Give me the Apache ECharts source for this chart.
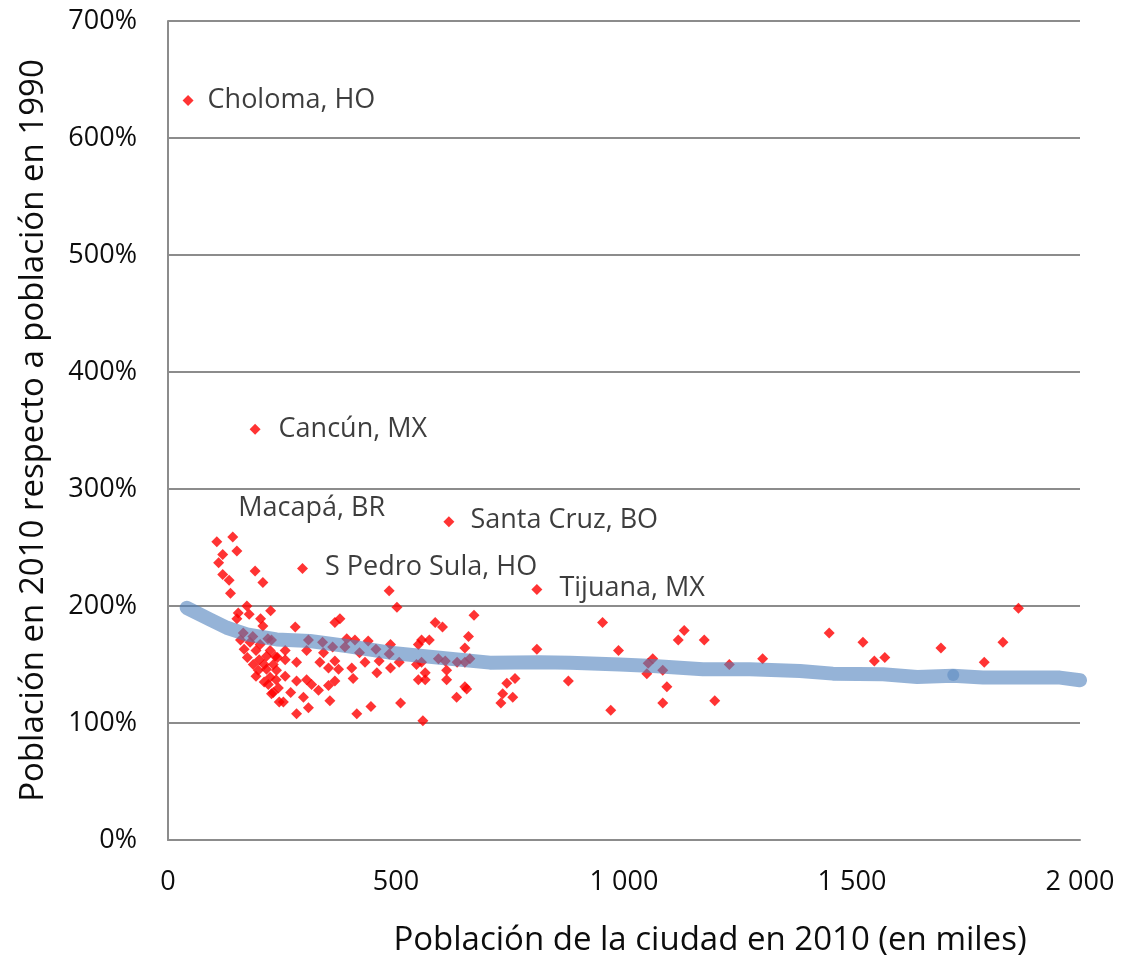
<!DOCTYPE html>
<html>
<head>
<meta charset="utf-8">
<script src="https://cdn.jsdelivr.net/npm/echarts@6/dist/echarts.min.js"></script>
<style>
  html, body { margin: 0; padding: 0; background: #fff; }
  #chart { width: 1130px; height: 962px; }
</style>
</head>
<body>
<div id="chart"></div>
<script>
// ciudades sin etiqueta: poblacion 2010 (miles) y % respecto a 1990
var poblacion = [107, 120, 151, 111, 191, 120, 134, 208, 137, 173, 225, 154, 178, 151, 203, 208, 165, 186, 219, 159,
  180, 202, 167, 193, 224, 174, 200, 216, 240, 187, 211, 231, 198, 216, 238, 193, 224, 211, 237, 220,
  227, 242, 244, 279, 366, 377, 227, 308, 339, 361, 388, 392, 410, 439, 420, 456, 257, 235, 304, 341,
  257, 282, 333, 366, 352, 374, 403, 432, 458, 257, 282, 304, 315, 330, 352, 366, 406, 231, 269, 297,
  253, 355, 308, 282, 445, 414, 502, 671, 586, 602, 659, 651, 488, 549, 556, 573, 485, 463, 507, 545,
  556, 593, 608, 634, 651, 662, 488, 564, 611, 549, 564, 611, 651, 655, 633, 510, 559, 809, 761, 743,
  734, 756, 730, 878, 953, 1119, 988, 1063, 1053, 1085, 1050, 1094, 1085, 971, 1132, 1176, 1199, 1231, 1304, 1450,
  1524, 1549, 1572, 1695, 1790, 1831, 1865, 485];
var crecimiento = [255, 244, 247, 237, 230, 227, 222, 220, 211, 200, 196, 194, 193, 189, 189, 183, 177, 174, 172, 171,
  169, 167, 163, 162, 162, 156, 154, 157, 156, 150, 150, 150, 145, 146, 145, 140, 139, 135, 137, 133,
  125, 130, 118, 182, 186, 189, 171, 171, 169, 165, 165, 172, 171, 170, 160, 163, 162, 157, 162, 160,
  154, 152, 152, 153, 147, 146, 147, 152, 143, 140, 136, 137, 133, 128, 132, 136, 138, 126, 126, 122,
  118, 119, 113, 108, 114, 108, 199, 192, 186, 182, 174, 164, 167, 167, 171, 171, 159, 153, 152, 150,
  152, 155, 153, 152, 152, 155, 147, 143, 145, 137, 137, 137, 131, 129, 122, 117, 102, 163, 138, 134,
  125, 122, 117, 136, 186, 171, 162, 155, 151, 145, 142, 131, 117, 111, 179, 171, 119, 150, 155, 177,
  169, 153, 156, 164, 152, 169, 198, 213];

// ciudades con etiqueta
var nombres = ['Choloma, HO', 'Cancún, MX', 'Macapá, BR', 'S Pedro Sula, HO', 'Santa Cruz, BO', 'Tijuana, MX'];
var nombresX = [44, 191, 142, 295, 616, 809];
var nombresY = [632, 351, 259, 232, 272, 214];

// curva de tendencia
var tendenciaX = [41, 92, 129, 173, 238, 311, 392, 487, 596, 706, 816, 882, 991, 1064, 1173, 1276, 1386, 1458,
  1568, 1643, 1721, 1787, 1897, 1956, 2000];
var tendenciaY = [198.4, 188.5, 181.4, 175.7, 171.4, 170.1, 165.8, 160.1, 155.8, 151.6, 152, 151.6, 150.1, 148.8,
  145.9, 145.9, 144.5, 142.2, 141.6, 139.4, 140.3, 138.8, 138.8, 138.8, 136.5];
var puntoAzul = [1722, 141];

var labelOffsets = [[9, 0], [13, 0], [-5, -29], [12, -1], [11, -1], [12, -1]];
var fuente = '"Open Sans", sans-serif';
var texto = '#0d0d0d';

var chart = echarts.init(document.getElementById('chart'));

var option = {
  animation: false,
  backgroundColor: '#fff',
  grid: { left: 168, right: 50, top: 21, bottom: 119 },
  xAxis: {
    type: 'value',
    min: 0,
    max: 2000,
    interval: 500,
    name: 'Población de la ciudad en 2010 (en miles)',
    nameLocation: 'middle',
    nameGap: 84,
    nameTextStyle: { fontFamily: fuente, fontSize: 33, color: texto, padding: [0, 0, 0, 172] },
    axisLine: { lineStyle: { color: '#8c8c8c', width: 2 } },
    axisTick: { show: false },
    splitLine: { show: false },
    axisLabel: {
      margin: 29,
      fontFamily: fuente,
      fontSize: 27,
      color: texto,
      formatter: function (v) {
        return v >= 1000 ? String(v).replace(/(\d)(\d{3})$/, '$1 $2') : String(v);
      }
    }
  },
  yAxis: {
    type: 'value',
    min: 0,
    max: 700,
    interval: 100,
    name: 'Población en 2010 respecto a población en 1990',
    nameLocation: 'middle',
    nameGap: 118,
    nameTextStyle: { fontFamily: fuente, fontSize: 33, color: texto },
    axisLine: { show: true, lineStyle: { color: '#8c8c8c', width: 2 } },
    axisTick: { show: false },
    splitLine: { lineStyle: { color: '#8c8c8c', width: 2 } },
    axisLabel: {
      margin: 31,
      fontFamily: fuente,
      fontSize: 27,
      color: texto,
      formatter: '{value}%'
    }
  },
  series: [
    {
      name: 'ciudades',
      type: 'scatter',
      symbol: 'diamond',
      symbolSize: 11,
      z: 2,
      itemStyle: { color: '#ff0000' },
      data: poblacion.map(function (x, i) {
        return [x, crecimiento[i]];
      })
    },
    {
      name: 'etiquetas',
      type: 'scatter',
      symbol: 'diamond',
      symbolSize: 11,
      z: 2,
      itemStyle: { color: '#ff0000' },
      label: {
        show: true,
        position: 'right',
        distance: 5,
        fontFamily: fuente,
        fontSize: 27,
        color: texto,
        formatter: function (p) { return p.data.nombre; }
      },
      data: nombres.map(function (n, i) {
        return { value: [nombresX[i], nombresY[i]], nombre: n, label: { offset: labelOffsets[i] } };
      })
    },
    {
      name: 'tendencia',
      type: 'line',
      z: 3,
      showSymbol: false,
      lineStyle: { color: 'rgba(79,129,189,0.6)', width: 14, cap: 'round', join: 'round' },
      data: tendenciaX.map(function (x, i) {
        return [x, tendenciaY[i]];
      })
    },
    {
      name: 'punto',
      type: 'scatter',
      z: 4,
      symbol: 'circle',
      symbolSize: 12,
      itemStyle: { color: 'rgba(79,129,189,0.6)' },
      data: [puntoAzul]
    }
  ]
};

chart.setOption(option);
</script>
</body>
</html>
